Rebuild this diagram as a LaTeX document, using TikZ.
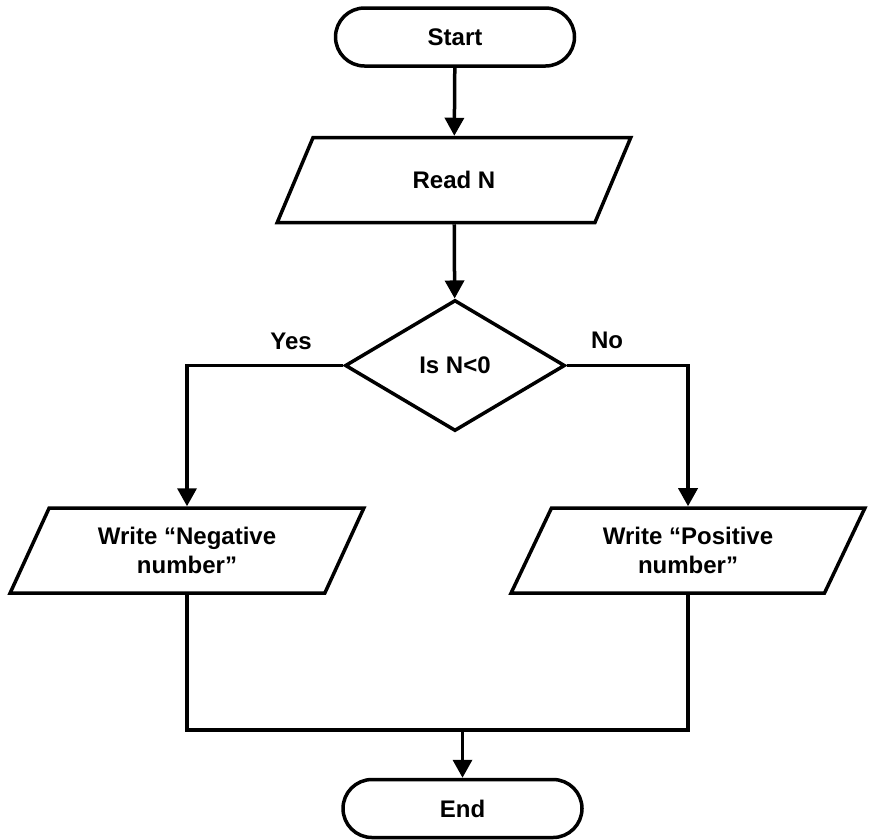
\documentclass[tikz,border=0pt]{standalone}
\usepackage{fontspec}
\setmainfont{Liberation Sans}
\usetikzlibrary{shapes.geometric,arrows.meta}
\begin{document}
\begin{tikzpicture}[x=1pt,y=-1pt,
  every node/.style={font=\fontsize{24}{29}\selectfont\bfseries, line width=3.5pt},
  terminal/.style={draw, rectangle, rounded corners=29pt, minimum width=239pt, minimum height=58pt},
  iobox/.style={draw, trapezium, trapezium left angle=63, trapezium right angle=117,
     trapezium stretches=true, minimum width=354pt, minimum height=85pt, align=center, inner sep=2pt},
  decision/.style={draw, diamond, minimum width=220pt, minimum height=131pt, inner sep=0pt},
  lbl/.style={font=\fontsize{24}{29}\selectfont\bfseries},
  conn/.style={line width=3.5pt},
  arr/.style={conn, -{Triangle[width=19pt,length=18pt]}}
]
\useasboundingbox (0,0) rectangle (869,839);
\node[terminal] (start) at (455,37) {Start};
\node[iobox] (read) at (454,180) {Read N};
\node[decision] (dec) at (455,365.5) {Is N<0};
\node[iobox] (neg) at (187,550.5) {Write “Negative\\number”};
\node[iobox] (pos) at (688,550.5) {Write “Positive\\number”};
\node[terminal] (end) at (462.5,808.5) {End};
\node[lbl] (yes) at (291,341) {Yes};
\node[lbl] (no) at (607,340) {No};
\coordinate (join) at (462.5,730);

\draw[arr] (start) -- (read);
\draw[arr] (read) -- (dec);
\draw[arr] (dec.west) -| (neg.north);
\draw[arr] (dec.east) -| (pos.north);
\draw[conn] (neg.south) |- (join) -| (pos.south);
\draw[arr] (join) -- (end.north);
\end{tikzpicture}
\end{document}
